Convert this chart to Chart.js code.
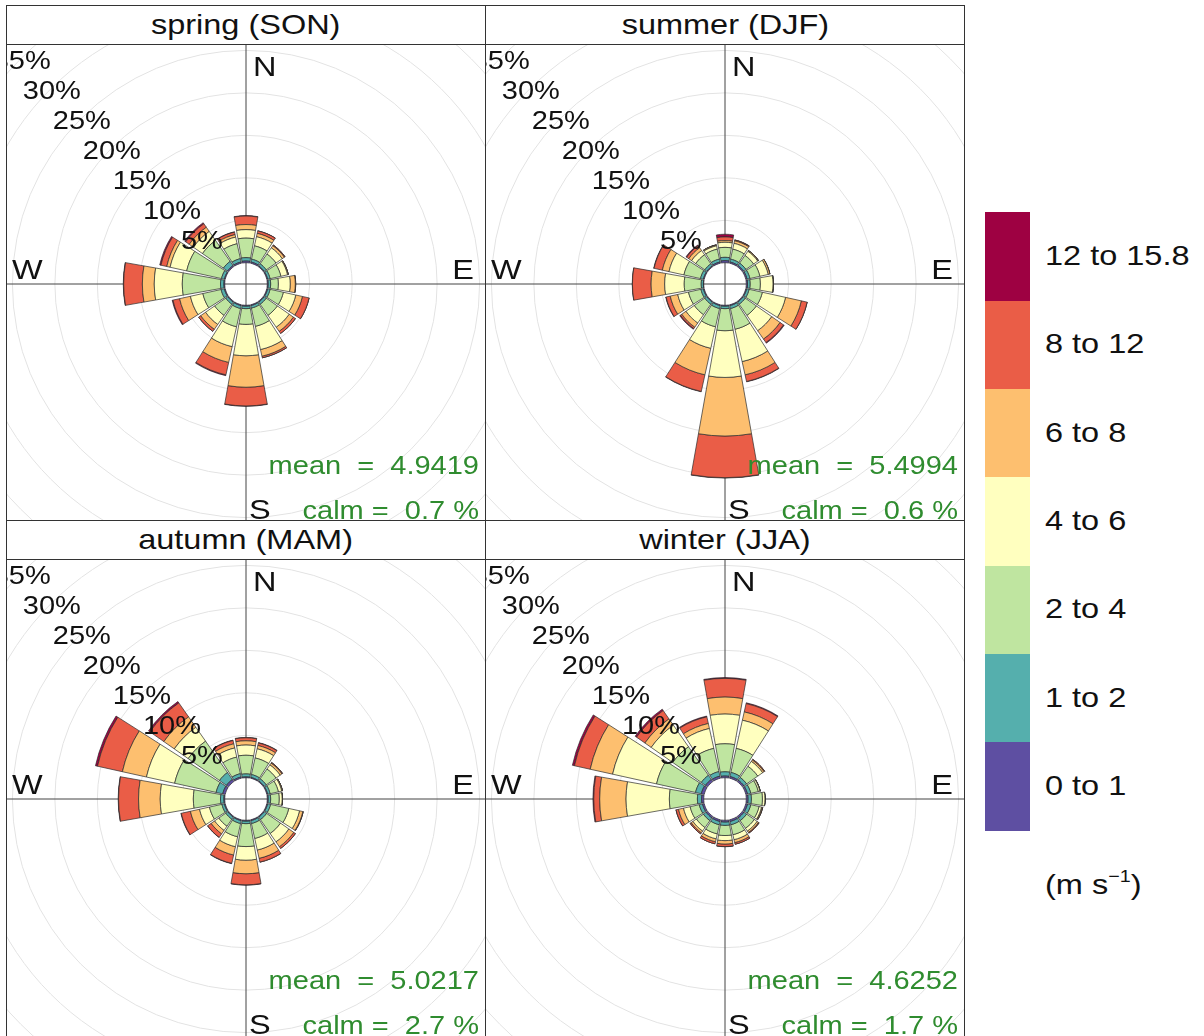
<!DOCTYPE html>
<html>
<head>
<meta charset="utf-8">
<script src="https://cdn.jsdelivr.net/npm/chart.js@4/dist/chart.umd.min.js"></script>
<style>
  body { margin: 0; width: 1204px; height: 1036px; overflow: hidden; position: relative; background: #fff;
         font-family: "Liberation Sans", Arial, sans-serif; color: #111; }
  .panel { position: absolute; width: 480px; height: 519px; border: 1px solid #333; box-sizing: border-box; background: #fff; }
  .strip { height: 38px; border-bottom: 1px solid #333; text-align: center; line-height: 38px; font-size: 28px; }
  .strip span { display: inline-block; transform: scaleX(1.16); }
  .rose { position: relative; width: 478px; height: 478px; overflow: hidden; }
  .rose canvas { position: absolute; left: -122px; top: -122px; }
  .key { position: absolute; left: 985px; width: 45px; }
  .keylab { position: absolute; left: 1045px; font-size: 28px; line-height: 28px; transform: scaleX(1.16); transform-origin: left center; white-space: nowrap; }
  .keylab sup { font-size: 17px; vertical-align: 12px; line-height: 0; }
</style>
</head>
<body>
<div id="page"></div>
<script>
// wind direction sectors (22.5 degrees each, clockwise from north)
const directions = ['N', 'NNE', 'NE', 'ENE', 'E', 'ESE', 'SE', 'SSE', 'S', 'SSW', 'SW', 'WSW', 'W', 'WNW', 'NW', 'NNW'];
const speedBins = ['0 to 1', '1 to 2', '2 to 4', '4 to 6', '6 to 8', '8 to 12', '12 to 15.8'];
const binColours = ['#5E4FA2', '#55AFAD', '#BFE5A0', '#FFFFBF', '#FDBF6F', '#EA5D47', '#9E0142'];
const ringTicks = [5, 10, 15, 20, 25, 30, 35];

// frequency (%) per direction, one value per speed bin
const springFreq = [
  [0.2, 0.4, 2.3, 1.0, 0.6, 1.0, 0.05],
  [0.15, 0.35, 1.6, 1.1, 0.4, 0.3, 0.02],
  [0.1, 0.3, 1.4, 0.9, 0.3, 0.1, 0],
  [0.1, 0.3, 1.3, 0.8, 0.1, 0, 0],
  [0.1, 0.3, 0.9, 1.4, 0.6, 0.05, 0],
  [0.1, 0.3, 1.6, 1.5, 0.8, 0.8, 0.02],
  [0.1, 0.3, 1.6, 1.7, 0.6, 0.3, 0],
  [0.1, 0.3, 2.2, 2.8, 0.8, 0.2, 0],
  [0.1, 0.3, 1.85, 3.7, 3.7, 2.2, 0.05],
  [0.1, 0.35, 2.2, 2.4, 1.9, 1.5, 0.1],
  [0.1, 0.3, 1.6, 1.3, 0.7, 0.3, 0],
  [0.1, 0.4, 2.2, 1.5, 1.3, 0.8, 0.1],
  [0.1, 0.4, 4.5, 3.3, 1.4, 2.2, 0.05],
  [0.1, 0.35, 4.2, 2.0, 0.4, 0.7, 0.15],
  [0.15, 0.6, 3.0, 1.3, 0.6, 0.5, 0.15],
  [0.15, 0.4, 1.8, 0.8, 0.3, 0.3, 0.05],
];
const summerFreq = [
  [0.24, 0.4, 1.17, 0.6, 0.2, 0.43, 0.32],
  [0.15, 0.35, 1.2, 0.7, 0.3, 0.1, 0.02],
  [0.15, 0.35, 1.1, 0.6, 0.1, 0.02, 0],
  [0.15, 0.35, 1.2, 1.0, 0.2, 0.02, 0],
  [0.15, 0.3, 1.2, 1.5, 0.05, 0, 0],
  [0.1, 0.3, 1.6, 2.8, 1.9, 0.7, 0.02],
  [0.1, 0.3, 1.6, 2.2, 1.2, 0.5, 0.1],
  [0.1, 0.35, 2.5, 3.9, 1.6, 0.8, 0.05],
  [0.1, 0.3, 2.6, 5.5, 6.9, 4.9, 0.05],
  [0.1, 0.35, 2.2, 2.6, 3.2, 2.0, 0.05],
  [0.1, 0.3, 1.5, 1.2, 0.6, 0.2, 0.1],
  [0.1, 0.3, 1.5, 1.3, 0.9, 0.5, 0.05],
  [0.05, 0.25, 2.0, 2.3, 1.6, 2.2, 0.02],
  [0.1, 0.35, 2.0, 1.8, 0.8, 1.0, 0.05],
  [0.1, 0.3, 1.3, 0.6, 0.4, 0.3, 0.1],
  [0.15, 0.35, 1.2, 0.4, 0.1, 0.02, 0],
];
const autumnFreq = [
  [0.1, 0.35, 2.2, 1.2, 0.5, 0.35, 0.05],
  [0.1, 0.35, 2.0, 1.1, 0.4, 0.3, 0.05],
  [0.1, 0.3, 1.4, 0.6, 0.25, 0.1, 0],
  [0.1, 0.3, 1.0, 0.4, 0.1, 0, 0],
  [0.1, 0.3, 1.0, 0.35, 0.05, 0, 0],
  [0.1, 0.35, 2.2, 1.3, 0.4, 0.05, 0],
  [0.1, 0.35, 2.0, 1.2, 0.7, 0.25, 0],
  [0.1, 0.35, 1.8, 1.4, 1.0, 0.45, 0.02],
  [0.1, 0.3, 2.7, 1.6, 1.6, 1.3, 0.05],
  [0.1, 0.35, 1.6, 1.2, 1.0, 1.0, 0.05],
  [0.1, 0.3, 1.0, 0.6, 0.5, 0.5, 0.02],
  [0.1, 0.3, 1.5, 1.2, 1.1, 1.1, 0.05],
  [0.1, 0.4, 3.2, 3.9, 2.55, 2.35, 0.05],
  [0.3, 0.8, 5.0, 3.4, 2.9, 3.0, 0.25],
  [0.3, 1.0, 4.5, 2.0, 1.5, 2.0, 0.2],
  [0.15, 0.4, 2.0, 1.1, 0.5, 0.4, 0.05],
];
const winterFreq = [
  [0.2, 0.5, 3.3, 3.5, 2.0, 2.2, 0.1],
  [0.2, 0.5, 2.9, 3.4, 1.0, 1.0, 0.1],
  [0.2, 0.4, 1.6, 0.7, 0.2, 0.1, 0],
  [0.2, 0.4, 0.9, 0.2, 0.05, 0, 0],
  [0.2, 0.4, 1.3, 0.3, 0.02, 0, 0],
  [0.2, 0.4, 1.0, 0.3, 0.1, 0.05, 0],
  [0.2, 0.4, 1.1, 0.4, 0.2, 0.1, 0],
  [0.2, 0.4, 1.2, 0.6, 0.35, 0.2, 0],
  [0.2, 0.4, 1.2, 0.6, 0.4, 0.3, 0.02],
  [0.2, 0.4, 1.1, 0.6, 0.35, 0.25, 0],
  [0.2, 0.4, 1.0, 0.5, 0.25, 0.15, 0],
  [0.2, 0.4, 1.1, 0.8, 0.6, 0.3, 0.02],
  [0.25, 0.5, 3.3, 5.1, 3.1, 0.7, 0.1],
  [0.35, 0.7, 4.7, 5.3, 2.7, 1.9, 0.25],
  [0.3, 0.6, 4.1, 3.1, 0.9, 1.2, 0.2],
  [0.25, 0.55, 2.8, 2.4, 0.6, 0.8, 0.1],
];

const panelTitles = ['spring (SON)', 'summer (DJF)', 'autumn (MAM)', 'winter (JJA)'];
const panelFreqs = [springFreq, summerFreq, autumnFreq, winterFreq];
const meanSpeeds = ['4.9419', '5.4994', '5.0217', '4.6252'];
const calmPercents = ['0.7', '0.6', '2.7', '1.7'];

const HOLE = 2.5;        // size of the empty centre, in % units
const SECTOR_GAP = 1.2;  // degrees trimmed from each side of a sector
const STRETCH = 1.16;    // the original text is drawn wide
const GREEN = '#2f8c2f';

// polar area where each dataset sits on top of the previous ones
class StackedRoseController extends Chart.PolarAreaController {
  static id = 'stackedRose';
  static defaults = {};
  static overrides = Chart.PolarAreaController.overrides;

  updateElements(arcs, start, count, mode) {
    const scale = this._cachedMeta.rScale;
    const datasets = this.chart.data.datasets;
    const step = 2 * Math.PI / this.chart.data.labels.length;
    const gap = SECTOR_GAP * Math.PI / 180;
    for (let i = start; i < start + count; i++) {
      let base = 0;
      for (let d = 0; d < this.index; d++) base += datasets[d].data[i];
      const value = this.getParsed(i).r;
      const mid = -Math.PI / 2 + i * step;
      this.updateElement(arcs[i], i, {
        x: scale.xCenter,
        y: scale.yCenter,
        startAngle: mid - step / 2 + gap,
        endAngle: mid + step / 2 - gap,
        innerRadius: scale.getDistanceFromCenterForValue(base),
        outerRadius: scale.getDistanceFromCenterForValue(base + value),
        options: this.resolveDataElementOptions(i, mode),
      }, mode);
    }
  }
}
Chart.register(StackedRoseController);

function drawText(ctx, text, x, y, size, colour, align, baseline) {
  ctx.save();
  ctx.translate(x, y);
  ctx.scale(STRETCH, 1);
  ctx.font = size + 'px "Liberation Sans", Arial, sans-serif';
  ctx.fillStyle = colour;
  ctx.textAlign = align;
  ctx.textBaseline = baseline;
  ctx.fillText(text, 0, 0);
  ctx.restore();
}

const roseText = {
  id: 'roseText',
  afterDraw(chart, args, opts) {
    const { ctx } = chart;
    const r = chart.scales.r;
    const cx = r.xCenter, cy = r.yCenter;
    ringTicks.forEach(v => {
      const d = r.getDistanceFromCenterForValue(v) * Math.SQRT1_2;
      drawText(ctx, v + '%', cx - d + 1, cy - d + 3, 25, '#111', 'center', 'middle');
    });
    drawText(ctx, 'N', cx + 7, cy - 208, 28, '#111', 'left', 'alphabetic');
    drawText(ctx, 'S', cx + 3, cy + 235, 28, '#111', 'left', 'alphabetic');
    drawText(ctx, 'E', cx + 228, cy - 5, 28, '#111', 'right', 'alphabetic');
    drawText(ctx, 'W', cx - 234, cy - 5, 28, '#111', 'left', 'alphabetic');
    drawText(ctx, 'mean  =  ' + opts.mean, cx + 233, cy + 190, 25, GREEN, 'right', 'alphabetic');
    drawText(ctx, 'calm =  ' + opts.calm + ' %', cx + 233, cy + 235, 25, GREEN, 'right', 'alphabetic');
  }
};

const page = document.getElementById('page');
const panelPos = [[6, 5], [485, 5], [6, 520], [485, 520]];

panelTitles.forEach((title, p) => {
  const panel = document.createElement('div');
  panel.className = 'panel';
  panel.style.left = panelPos[p][0] + 'px';
  panel.style.top = panelPos[p][1] + 'px';
  panel.innerHTML = '<div class="strip"><span>' + title + '</span></div><div class="rose"><canvas width="722" height="722"></canvas></div>';
  page.appendChild(panel);

  const freq = panelFreqs[p];
  new Chart(panel.querySelector('canvas'), {
    type: 'stackedRose',
    data: {
      labels: directions,
      datasets: speedBins.map((bin, b) => ({
        label: bin,
        data: freq.map(row => row[b]),
        backgroundColor: binColours[b],
        borderColor: '#2b2b2b',
        borderWidth: 0.7,
      })),
    },
    options: {
      responsive: false,
      animation: false,
      events: [],
      layout: { padding: 0 },
      scales: {
        r: {
          min: -HOLE,
          max: 40,
          startAngle: 0,
          ticks: { display: false },
          afterBuildTicks: (scale) => { scale.ticks = ringTicks.map(v => ({ value: v })); },
          grid: { circular: true, color: '#e3e3e3', lineWidth: 1 },
          angleLines: { display: true, color: '#444', lineWidth: (ctx) => ctx.index % 4 === 0 ? 1 : 0 },
          pointLabels: { display: false },
        },
      },
      plugins: {
        legend: { display: false },
        tooltip: { enabled: false },
        roseText: { mean: meanSpeeds[p], calm: calmPercents[p] },
      },
    },
    plugins: [roseText],
  });
});

// colour key, highest bin on top
const keyTop = 212, keyStep = 88.3;
speedBins.forEach((bin, b) => {
  const row = speedBins.length - 1 - b;
  const box = document.createElement('div');
  box.className = 'key';
  box.style.top = (keyTop + row * keyStep) + 'px';
  box.style.height = (keyStep + 0.5) + 'px';
  box.style.background = binColours[b];
  page.appendChild(box);
  const lab = document.createElement('div');
  lab.className = 'keylab';
  lab.style.top = (keyTop + row * keyStep + keyStep / 2 - 14) + 'px';
  lab.textContent = bin;
  page.appendChild(lab);
});
const unit = document.createElement('div');
unit.className = 'keylab';
unit.style.top = '871px';
unit.innerHTML = '(m s<sup>\u22121</sup>)';
page.appendChild(unit);
</script>
</body>
</html>
